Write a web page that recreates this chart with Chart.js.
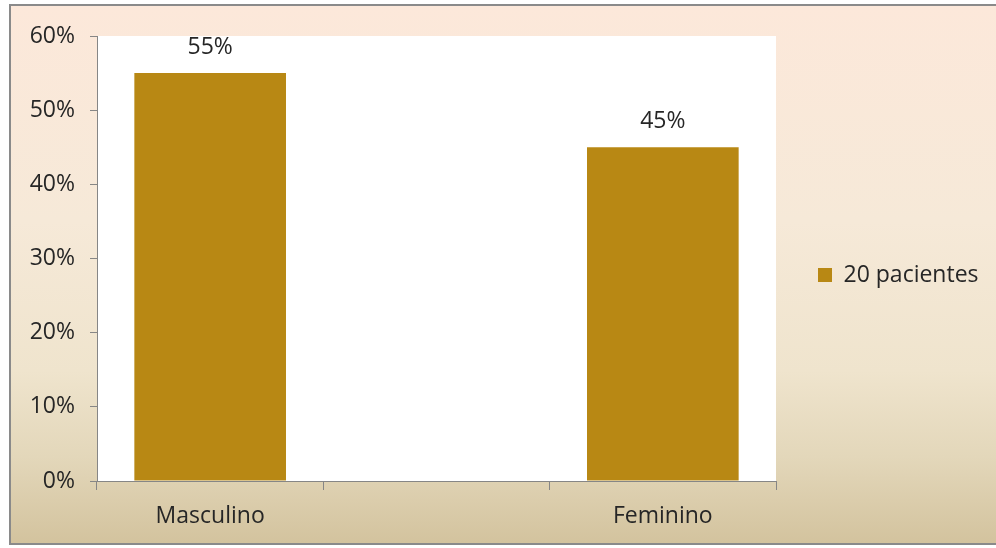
<!DOCTYPE html>
<html>
<head>
<meta charset="utf-8">
<script src="https://cdn.jsdelivr.net/npm/chart.js@4.4.1/dist/chart.umd.min.js"></script>
<style>
  html, body { margin: 0; padding: 0; background: #ffffff; }
  #frame {
    position: absolute; left: 9px; top: 4px; width: 1000px; height: 541px;
    border: 2px solid #8a8a8a; box-sizing: border-box;
    background: linear-gradient(to bottom, #fce8da 0%, #f6e9d8 40%, #efe4cd 68%, #e3d7ba 84%, #d3c39e 100%);
  }
  #wrap { position: absolute; left: 0; top: 0; width: 996px; height: 548px; }
</style>
</head>
<body>
<div id="frame"></div>
<div id="wrap"><canvas id="myChart" width="996" height="548"></canvas></div>
<script>
var categories = ["Masculino", "", "Feminino"];
var pacientes = [55, null, 45];
var seriesLabel = "20 pacientes";
var yTicks = [0, 10, 20, 30, 40, 50, 60];

var FONT = "'Open Sans', sans-serif";
var TEXT = "#262626";
var AXIS = "#868686";
var FS = 23;

var plotBackground = {
  id: "plotBackground",
  beforeDraw: function (chart) {
    var a = chart.chartArea;
    var ctx = chart.ctx;
    ctx.save();
    ctx.fillStyle = "#ffffff";
    ctx.fillRect(a.left, a.top, a.right - a.left, a.bottom - a.top);
    ctx.restore();
  }
};

var barLabels = {
  id: "barLabels",
  afterDatasetsDraw: function (chart) {
    var ctx = chart.ctx;
    ctx.save();
    ctx.font = FS + "px " + FONT;
    ctx.fillStyle = TEXT;
    ctx.textAlign = "center";
    ctx.textBaseline = "bottom";
    chart.getDatasetMeta(0).data.forEach(function (bar, i) {
      var v = pacientes[i];
      if (v == null) return;
      ctx.fillText(v + "%", bar.x, bar.y - 14);
    });
    ctx.restore();
  }
};

// legend sits in the band right of the plot, centred a bit above the canvas middle
var legendBox = {
  id: "legendBox",
  afterInit: function (chart) {
    var lg = chart.legend;
    if (!lg) return;
    var fit = lg.fit.bind(lg);
    lg.fit = function () { fit(); this.width = 220; };
  },
  afterLayout: function (chart) {
    var lg = chart.legend;
    if (!lg) return;
    lg.bottom = chart.height - 34;
    lg.height = lg.bottom - lg.top;
  }
};

var ctx = document.getElementById("myChart").getContext("2d");
var myChart = new Chart(ctx, {
  type: "bar",
  data: {
    labels: categories,
    datasets: [
      {
        label: seriesLabel,
        data: pacientes,
        backgroundColor: "#b88814",
        borderWidth: 0,
        barPercentage: 0.67,
        categoryPercentage: 1
      }
    ]
  },
  plugins: [plotBackground, barLabels, legendBox],
  options: {
    responsive: false,
    animation: false,
    layout: { padding: { left: 12, top: 36, right: 0, bottom: 0 } },
    plugins: {
      tooltip: { enabled: false },
      legend: {
        position: "right",
        labels: {
          boxWidth: 14,
          boxHeight: 14,
          padding: 42,
          color: TEXT,
          font: { family: FONT, size: FS }
        }
      }
    },
    scales: {
      x: {
        afterFit: function (scale) { scale.height = 67; },
        grid: { drawOnChartArea: false, tickLength: 9, color: AXIS, offset: true },
        border: { color: AXIS },
        ticks: { color: TEXT, padding: 13, font: { family: FONT, size: FS } }
      },
      y: {
        min: 0,
        max: 60,
        afterFit: function (scale) { scale.width = 85; },
        afterBuildTicks: function (scale) {
          scale.ticks = yTicks.map(function (v) { return { value: v }; });
        },
        grid: { drawOnChartArea: false, tickLength: 7, color: AXIS },
        border: { color: AXIS },
        ticks: {
          color: TEXT,
          padding: 15,
          font: { family: FONT, size: FS },
          callback: function (v) { return v + "%"; }
        }
      }
    }
  }
});
</script>
</body>
</html>
